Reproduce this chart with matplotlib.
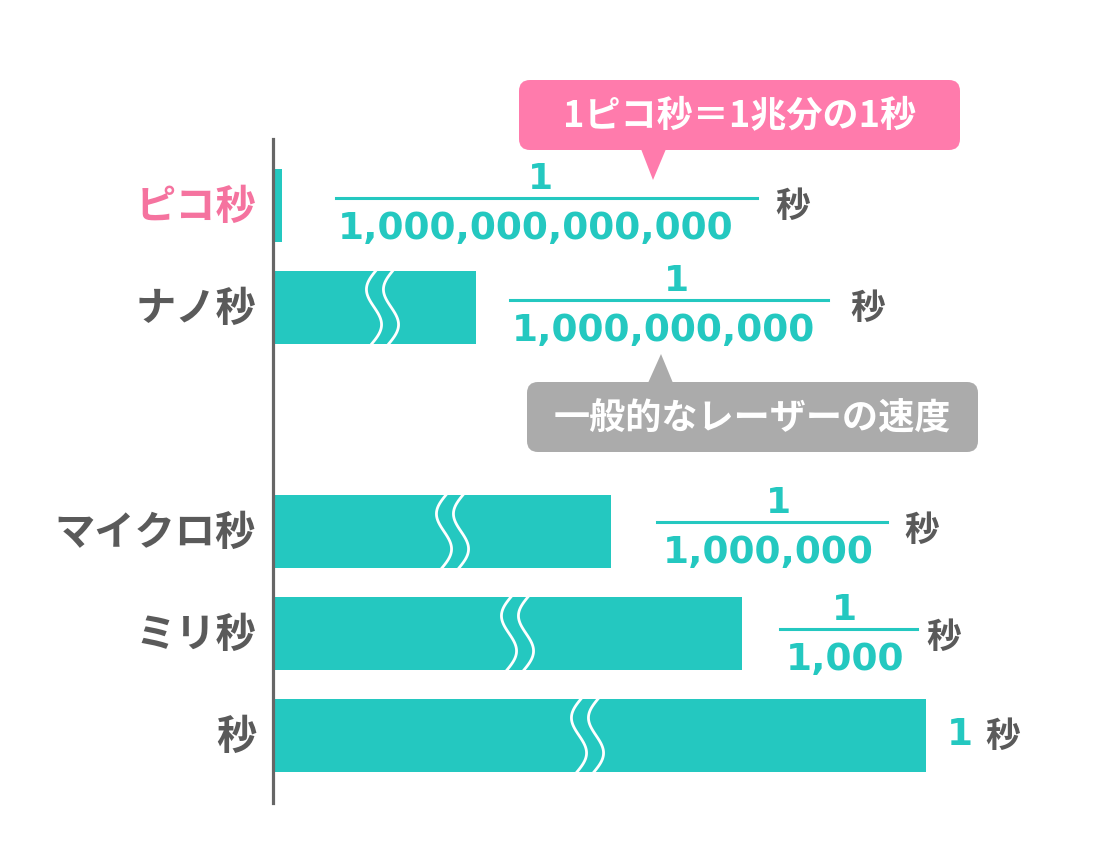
import numpy as np
import matplotlib
matplotlib.use("Agg")
import matplotlib.pyplot as plt
from matplotlib.patches import FancyBboxPatch, Polygon

# データ（棒の長さは図の見た目どおり、目盛りなしのイメージ図）
categories = ["ピコ秒", "ナノ秒", "マイクロ秒", "ミリ秒", "秒"]
bar_len = [9, 203, 338, 469, 653]
denominators = ["1,000,000,000,000", "1,000,000,000", "1,000,000", "1,000", ""]
pink_note = "1ピコ秒＝1兆分の1秒"
gray_note = "一般的なレーザーの速度"

TEAL = "#24C8C0"
PINK = "#FF7BAC"
LABEL_PINK = "#F5739F"
DARK = "#5A5A5A"
GRAY_BOX = "#ABABAB"
JP = ["Noto Sans CJK JP", "DejaVu Sans"]
NUM = ["DejaVu Sans"]

W, H = 1100, 858
fig = plt.figure(figsize=(W / 100, H / 100), dpi=100)

# 行の位置（スロット番号、ナノ秒とマイクロ秒の間は吹き出し用に空ける）
slots = [0, 1, 3.2, 4.2, 5.2]
row0, step = 205, 102
axis_x, axis_top, axis_bot = 273, 139, 803

ax = fig.add_axes([axis_x / W, (H - axis_bot) / H, (W - axis_x) / W, (axis_bot - axis_top) / H])
ax.set_xlim(0, W - axis_x)
ax.set_ylim((axis_bot - row0) / step, (axis_top - row0) / step)
ax.barh(slots, bar_len, height=73 / step, color=TEAL, zorder=2)
for s in ["top", "right", "bottom"]:
    ax.spines[s].set_visible(False)
ax.spines["left"].set_color("#666666")
ax.spines["left"].set_linewidth(2.3)
ax.set_xticks([])
ax.set_yticks([])
ax.patch.set_alpha(0)

# 省略マーク（白い波線2本）
break_at = [None, 101, 171, 236, 306]
t = np.linspace(0, 1, 60)
for s, bx in zip(slots, break_at):
    if bx is None:
        continue
    yy = s - 0.37 + 0.74 * t
    for dx in (0, 17):
        xx = bx + dx - 9 * np.sin(2 * np.pi * t) - 6 * t + 3
        ax.plot(xx, yy, color="white", lw=2.0, zorder=3, solid_capstyle="butt")

# 注記用のオーバーレイ（ピクセル座標）
ov = fig.add_axes([0, 0, 1, 1])
ov.set_xlim(0, W)
ov.set_ylim(H, 0)
ov.axis("off")
ov.patch.set_alpha(0)

def row_y(i):
    return row0 + step * slots[i]

# カテゴリラベル
for i, cat in enumerate(categories):
    ov.text(256, row_y(i) + 2, cat, ha="right", va="center", fontsize=29,
            fontweight="bold", family=JP, color=LABEL_PINK if i == 0 else DARK)

# 分数表示: (線の左, 線の右, 線のy, 分子x, 分母x, 秒x)
frac_layout = [
    (336, 757, 198, 541, 536, 793),
    (510, 828, 300, 677, 663, 868),
    (657, 887, 522, 778, 768, 922),
    (780, 917, 629, 845, 845, 944),
]
for (x0, x1, ly, nx, dx, sx), den in zip(frac_layout, denominators):
    ov.plot([x0, x1], [ly, ly], color=TEAL, lw=2.2)
    ov.text(nx, ly - 2, "1", ha="center", va="bottom", fontsize=26,
            fontweight="bold", family=NUM, color=TEAL)
    ov.text(dx, ly + 13, den, ha="center", va="top", fontsize=27,
            fontweight="bold", family=NUM, color=TEAL)
    ov.text(sx, ly + 8, "秒", ha="center", va="center", fontsize=25,
            fontweight="bold", family=JP, color=DARK)

# 1秒
ov.text(960, row_y(4), "1", ha="center", va="center", fontsize=27,
        fontweight="bold", family=NUM, color=TEAL)
ov.text(1003, row_y(4) + 1, "秒", ha="center", va="center", fontsize=25,
        fontweight="bold", family=JP, color=DARK)

# 吹き出し
def callout(x0, y0, x1, y1, tri, color, text):
    box = FancyBboxPatch((x0, y0), x1 - x0, y1 - y0,
                         boxstyle="round,pad=0,rounding_size=11",
                         fc=color, ec="none", zorder=5)
    ov.add_patch(box)
    ov.add_patch(Polygon(tri, closed=True, fc=color, ec="none", zorder=5))
    ov.text((x0 + x1) / 2, (y0 + y1) / 2 + 1, text, ha="center", va="center",
            fontsize=26, fontweight="bold", family=JP, color="white", zorder=6)

callout(519, 80, 960, 150, [(641, 149), (666, 149), (653, 180)], PINK, pink_note)
callout(527, 382, 978, 452, [(648, 383), (673, 383), (661, 354)], GRAY_BOX, gray_note)

fig.savefig("out.png", dpi=100)
